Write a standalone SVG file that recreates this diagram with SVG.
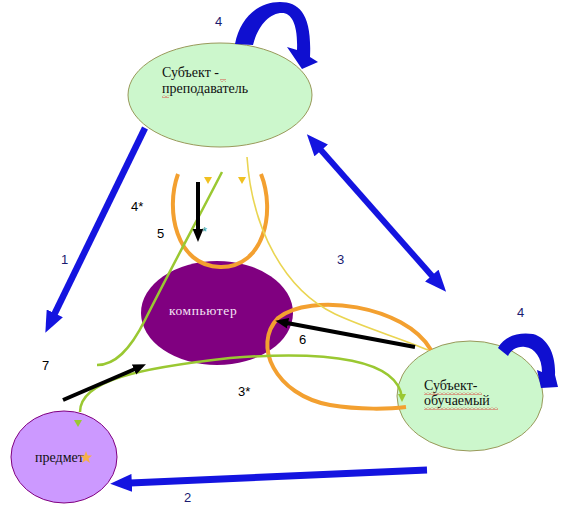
<svg xmlns="http://www.w3.org/2000/svg" width="564" height="518" viewBox="0 0 564 518">
<style>
.node-text{font-family:"Liberation Serif","Times New Roman",serif;font-size:14px;fill:#111}
.num{font-family:"Liberation Sans",Arial,sans-serif;font-size:13px;fill:#000}
.numb{font-family:"Liberation Sans",Arial,sans-serif;font-size:13px;fill:#1a1a70}
.blue{stroke:#1414e0;fill:none}
.blk{stroke:#000;stroke-width:4;fill:none}
.org{stroke:#f3a030;stroke-width:4;fill:none}
.grn{stroke:#9ac832;stroke-width:2.5;fill:none}
.yel{stroke:#ead552;stroke-width:1.6;fill:none}
.block{fill:#0f0fd0}
.wave{fill:url(#wave)}
</style>
<defs>
<marker id="bh" markerUnits="userSpaceOnUse" viewBox="0 0 12 10" markerWidth="22" markerHeight="18" refX="1" refY="5" orient="auto-start-reverse">
<path d="M0,0 L12,5 L0,10 z" fill="#1414e0"/>
</marker>
<marker id="kh" markerUnits="userSpaceOnUse" viewBox="0 0 12 10" markerWidth="13" markerHeight="12" refX="1" refY="5" orient="auto">
<path d="M0,0 L12,5 L0,10 z" fill="#000"/>
</marker>
<pattern id="wave" patternUnits="userSpaceOnUse" width="4" height="3">
<path d="M0,2.5 L2,0.5 L4,2.5" stroke="#e02020" stroke-width="0.8" fill="none"/>
</pattern>
</defs>
<rect width="564" height="518" fill="#fff"/>

<g id="node-teacher">
<ellipse cx="220" cy="95" rx="92" ry="52" fill="#ccf7cc" stroke="#99995a" stroke-width="1"/>
<text class="node-text" x="162" y="77">Субъект -</text>
<text class="node-text" x="162" y="93">преподаватель</text>
<rect class="wave" x="220" y="79" width="6" height="3"/>
<rect class="wave" x="162" y="95" width="7" height="3"/>
</g>

<g id="node-computer">
<ellipse cx="217" cy="313" rx="76" ry="52" fill="#800080"/>
<text x="169" y="315" font-family="Liberation Serif, Times New Roman, serif" font-size="13.5" letter-spacing="0.6" fill="#f4e4f4">компьютер</text>
</g>

<g id="node-student">
<ellipse cx="470" cy="396" rx="73" ry="55" fill="#ccf7cc" stroke="#99995a" stroke-width="1"/>
<text class="node-text" x="424" y="390">Субъект-</text>
<text class="node-text" x="424" y="405">обучаемый</text>
<rect class="wave" x="424" y="392" width="58" height="3"/>
<rect class="wave" x="424" y="407" width="74" height="3"/>
</g>

<g id="node-subject">
<ellipse cx="64" cy="457" rx="53" ry="46" fill="#cc99ff" stroke="#800080" stroke-width="1"/>
<text class="node-text" x="35" y="462">предмет</text>
<path d="M86,451 L87.6,455.5 L92,455.5 L88.5,458.5 L90,463 L86,460.2 L82,463 L83.5,458.5 L80,455.5 L84.4,455.5 z" fill="#f5b048"/>
</g>

<g id="connectors">
<line class="blue" x1="145" y1="128" x2="54" y2="315" stroke-width="6.5" marker-end="url(#bh)"/>
<line class="blue" x1="427" y1="470" x2="130" y2="483" stroke-width="7" marker-end="url(#bh)"/>
<line class="blue" x1="320" y1="149" x2="433" y2="277" stroke-width="6" marker-start="url(#bh)" marker-end="url(#bh)"/>
<path class="block" d="M235,44 C240,18 258,2 280,2 C300,2 312,15 310,57 L318,62 L302,69 L287,47 L297,50 C298,25 292,13 282,13 C270,13 258,25 253,45 Z"/>
<path class="block" d="M498,348 C505,335 520,332 533,334 C548,338 556,355 555,375 L558,387 L541,388 L537,370 L542,372 C542,358 535,348 525,347 C517,346 511,350 508,356 Z"/>
<path class="org" d="M178,174 C165,210 176,266 220,267 C264,268 276,212 261,174"/>
<path class="org" d="M431,350 C405,305 310,292 278,318 C252,345 275,395 330,405 C360,410 390,409 406,407"/>
<path class="yel" d="M247,157 C252,230 285,290 335,314 C365,328 400,338 428,350"/>
<path class="grn" d="M222,172 C200,215 170,270 145,320 C130,350 115,365 97,365"/>
<path class="grn" d="M80,412 C80,380 140,368 230,358 C330,350 398,360 402,398"/>
<path d="M398,394 L406,394 L402,402 z" fill="#9ac832"/>
<path d="M204,177 L212,177 L208,184 z" fill="#f0c020"/>
<path d="M238,177 L246,177 L242,184 z" fill="#f0c020"/>
<path d="M74,420 L82,420 L78,427 z" fill="#9ac832"/>
<line class="blk" x1="198" y1="182" x2="198" y2="230" marker-end="url(#kh)"/>
<line class="blk" x1="63" y1="400" x2="135" y2="369" marker-end="url(#kh)"/>
<line class="blk" x1="415" y1="347" x2="287" y2="323" marker-end="url(#kh)"/>
</g>

<g id="labels">
<text class="numb" x="215" y="26">4</text>
<text class="numb" x="517" y="317">4</text>
<text class="numb" x="61" y="264">1</text>
<text class="numb" x="184" y="502">2</text>
<text class="numb" x="337" y="264">3</text>
<text class="num" x="131" y="211">4*</text>
<text class="num" x="157" y="238">5</text>
<text class="num" x="299" y="344">6</text>
<text class="num" x="42" y="370">7</text>
<text class="num" x="238" y="396">3*</text>
<text x="202" y="236" font-family="Liberation Sans, Arial, sans-serif" font-size="13" fill="#2a9a9a">*</text>
</g>
</svg>
